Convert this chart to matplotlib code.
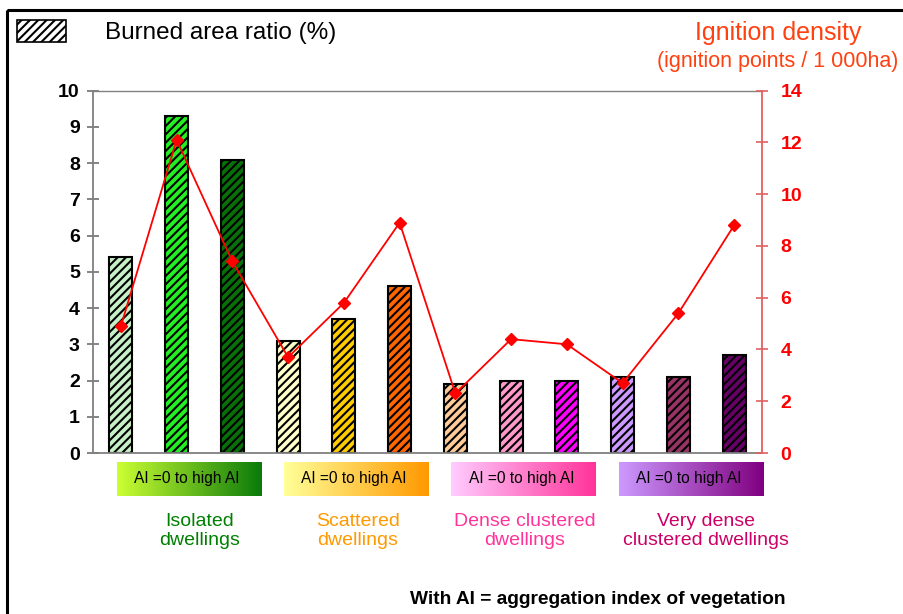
import matplotlib
matplotlib.use('Agg')
import matplotlib.pyplot as plt
import numpy as np
from matplotlib.patches import Rectangle
from matplotlib.colors import LinearSegmentedColormap

plt.rcParams['font.family'] = ['Liberation Sans', 'DejaVu Sans']
plt.rcParams['hatch.linewidth'] = 1.5

# ---------------- data ----------------
burned = [5.4, 9.3, 8.1, 3.1, 3.7, 4.6, 1.9, 2.0, 2.0, 2.1, 2.1, 2.7]
ignition = [4.9, 12.1, 7.4, 3.7, 5.8, 8.9, 2.3, 4.4, 4.2, 2.7, 5.4, 8.8]
bar_colors = ['#c8f0c8', '#22f022', '#087008',
              '#ffffcc', '#ffcc00', '#ff6600',
              '#ffcc99', '#ff99cc', '#ff00ff',
              '#cc99ff', '#993366', '#660066']
groups = ['Isolated\ndwellings', 'Scattered\ndwellings',
          'Dense clustered\ndwellings', 'Very dense\nclustered dwellings']
group_colors = ['#008000', '#ff9900', '#ff3399', '#cc0066']
grad_stops = [('#ccff33', '#0a7a0a'), ('#ffff99', '#ff9900'),
              ('#ffccff', '#ff3399'), ('#cc99ff', '#800080')]
box_label = 'AI =0 to high AI'
left_ticks = list(range(0, 11))
right_ticks = list(range(0, 15, 2))
left_title = 'Burned area ratio (%)'
right_title = 'Ignition density'
right_subtitle = '(ignition points / 1 000ha)'
footnote = 'With AI = aggregation index of vegetation'

# ---------------- layout ----------------
W, H = 904, 614
fig = plt.figure(figsize=(W / 100, H / 100), dpi=100)
fig.patch.set_facecolor('white')

AX_L, AX_R, AX_T, AX_B = 93, 762, 90.7, 453
ax = fig.add_axes([AX_L / W, 1 - AX_B / H, (AX_R - AX_L) / W, (AX_B - AX_T) / H])

x = np.arange(len(burned))
ax.bar(x, burned, width=0.41, color=bar_colors, edgecolor='black',
       linewidth=1.5, hatch='////', zorder=2)
ax.set_xlim(-0.5, len(burned) - 0.5)
ax.set_ylim(0, 10)
ax.set_yticks(left_ticks)
ax.set_yticklabels([str(t) for t in left_ticks], fontsize=14, fontweight='bold')
ax.set_xticks([])
ax.tick_params(axis='y', direction='inout', length=9, width=1.2,
               color='#707070', pad=5)
for s in ['left', 'bottom', 'top']:
    ax.spines[s].set_color('#808080')
    ax.spines[s].set_linewidth(1.3)
ax.spines['top'].set_linewidth(1.0)
ax.spines['right'].set_visible(False)

ax2 = ax.twinx()
ax2.plot(x, ignition, color='#ff0000', lw=1.3, marker='D', ms=6, zorder=3)
ax2.set_ylim(0, 14)
ax2.set_yticks(right_ticks)
ax2.set_yticklabels([str(t) for t in right_ticks], fontsize=14,
                    fontweight='bold', color='#ff0000')
ax2.tick_params(axis='y', direction='inout', length=9, width=1.2,
                color='#e06060', pad=9)
ax2.spines['right'].set_color('#e06060')
ax2.spines['right'].set_linewidth(1.3)
for s in ['left', 'bottom', 'top']:
    ax2.spines[s].set_visible(False)

# ---------------- overlay (pixel coordinates) ----------------
ov = fig.add_axes([0, 0, 1, 1])
ov.set_xlim(0, W)
ov.set_ylim(H, 0)
ov.axis('off')
ov.patch.set_alpha(0)

# outer frame
ov.add_patch(Rectangle((7, 10), W + 20, H + 20, fill=False,
                       edgecolor='black', lw=2.2))

# legend swatch + left title
ov.add_patch(Rectangle((17, 20), 49, 22, facecolor='white',
                       edgecolor='black', lw=1.2, hatch='////'))
ov.text(105, 33, left_title, fontsize=17.5, va='center', ha='left', color='black')

# right titles
ov.text(778, 33, right_title, fontsize=18, va='center', ha='center', color='#ff4010')
ov.text(778, 61, right_subtitle, fontsize=15.5, va='center', ha='center', color='#ff4010')

step = (AX_R - AX_L) / len(burned)
def cx(c):
    return AX_L + step * (c + 0.5)

grad = np.linspace(0, 1, 256).reshape(1, -1)
label_centers = [200, 358, 525, 706]
for g in range(4):
    x0 = cx(3 * g) - 4
    cmap = LinearSegmentedColormap.from_list('g%d' % g, grad_stops[g])
    ov.imshow(grad, extent=[x0, x0 + 145, 496, 462], cmap=cmap, aspect='auto',
              zorder=1)
    ov.text(x0 + 70, 479, box_label, fontsize=11.2, ha='center', va='center',
            color='black', zorder=2)
    ov.text(label_centers[g], 531, groups[g], fontsize=14, ha='center',
            va='center', color=group_colors[g], linespacing=1.22)

ov.set_xlim(0, W)
ov.set_ylim(H, 0)

ov.text(410, 600, footnote, fontsize=13.8, fontweight='bold', ha='left',
        va='center', color='black')

fig.savefig('out.png', dpi=100)
